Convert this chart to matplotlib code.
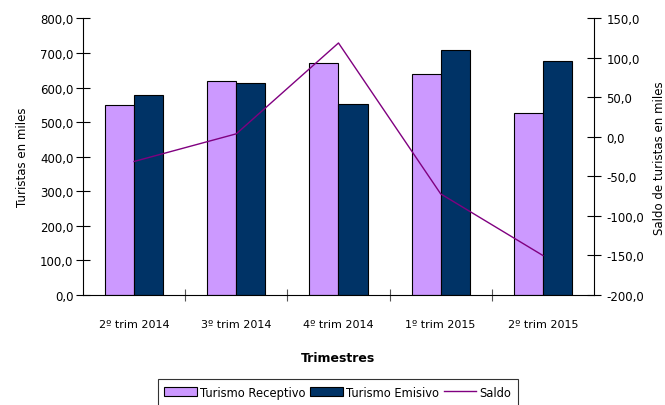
import matplotlib
matplotlib.use('Agg')
import matplotlib.pyplot as plt
from matplotlib.ticker import FuncFormatter, MultipleLocator, FixedLocator
from matplotlib.patches import Patch
from matplotlib.lines import Line2D
import numpy as np

# Data
trimestres = ['2º trim 2014', '3º trim 2014', '4º trim 2014', '1º trim 2015', '2º trim 2015']
receptivo = [549, 618, 672, 638, 527]
emisivo = [580, 614, 553, 710, 677]
saldo = [-31, 4, 119, -72, -150]

light = '#CC99FF'
dark = '#003366'
line_col = '#800080'


def coma(v, pos):
    return f'{v:.1f}'.replace('.', ',')


fig = plt.figure(figsize=(6.65, 4.06), dpi=100)
ax = fig.add_axes([0.1248, 0.271, 0.7684, 0.681])

x = np.arange(len(trimestres))
w = 0.285
ax.bar(x - w / 2, receptivo, w, color=light, edgecolor='black', linewidth=0.8, zorder=2)
ax.bar(x + w / 2, emisivo, w, color=dark, edgecolor='black', linewidth=0.8, zorder=2)

ax.set_xlim(-0.5, len(trimestres) - 0.5)
ax.set_ylim(0, 800)
ax.yaxis.set_major_locator(MultipleLocator(100))
ax.yaxis.set_major_formatter(FuncFormatter(coma))
ax.set_xticks(x)
ax.set_xticklabels(trimestres, fontsize=8)
ax.xaxis.set_minor_locator(FixedLocator(x[:-1] + 0.5))
ax.tick_params(axis='x', which='major', length=0, pad=17)
ax.tick_params(axis='x', which='minor', direction='inout', length=8, width=0.8, color='#555555')
ax.tick_params(axis='y', direction='inout', length=10, width=0.8, labelsize=8.5, pad=2)

for s in ['top', 'right']:
    ax.spines[s].set_visible(False)
ax.spines['left'].set_linewidth(0.8)
ax.spines['bottom'].set_linewidth(0.8)

ax.set_ylabel('Turistas en miles', fontsize=8.5, labelpad=8)
ax.set_xlabel('Trimestres', fontsize=9, fontweight='bold', labelpad=16)

ax2 = ax.twinx()
ax2.plot(x, saldo, color=line_col, linewidth=1.0, zorder=3)
ax2.set_ylim(-200, 150)
ax2.yaxis.set_major_locator(MultipleLocator(50))
ax2.yaxis.set_major_formatter(FuncFormatter(coma))
ax2.tick_params(axis='y', direction='inout', length=10, width=0.8, labelsize=8.5, pad=4)
for s in ['top', 'left', 'bottom']:
    ax2.spines[s].set_visible(False)
ax2.spines['right'].set_linewidth(0.8)
ax2.set_ylabel('Saldo de turistas en miles', fontsize=8.5, labelpad=6)

handles = [
    Patch(facecolor=light, edgecolor='black', linewidth=0.8, label='Turismo Receptivo'),
    Patch(facecolor=dark, edgecolor='black', linewidth=0.8, label='Turismo Emisivo'),
    Line2D([0], [0], color=line_col, linewidth=1.0, label='Saldo'),
]
leg = fig.legend(handles=handles, loc='upper center', bbox_to_anchor=(0.508, 1 - 374 / 406),
                 ncol=3, fontsize=8.3, frameon=True, fancybox=False, edgecolor='black',
                 handlelength=2.8, handleheight=0.8, columnspacing=0.4, handletextpad=0.3,
                 borderpad=0.6)
leg.get_frame().set_linewidth(0.8)

fig.savefig('out.png', dpi=100)
